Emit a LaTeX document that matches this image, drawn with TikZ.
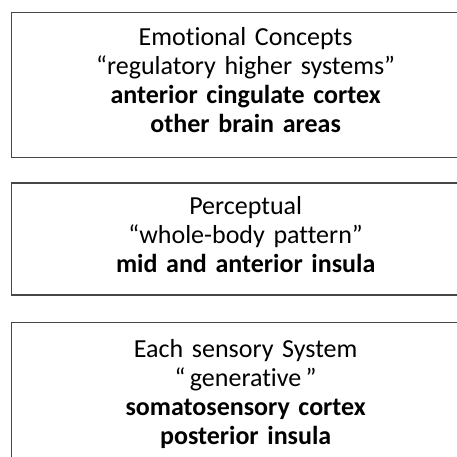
\documentclass[tikz,border=0pt]{standalone}
\usepackage{fontspec}
\setmainfont{Carlito}[Ligatures=NoCommon, WordSpace=0.85]
\usetikzlibrary{positioning}

\tikzset{
  layerbox/.style={draw=black!72, line width=1.3pt, minimum width=468pt, inner sep=0pt},
  layertext/.style={text width=440pt, align=center, inner sep=0pt, anchor=north,
    font=\fontsize{26}{29}\selectfont},
}

\begin{document}
\begin{tikzpicture}[x=1pt,y=1pt]
		\useasboundingbox (0,0) rectangle (457,-456);
		\clip (0,0) rectangle (457,-456);
		% three levels, top to bottom
		\node[layerbox, minimum height=145pt, anchor=north west] (emotion) at (11,-12) {};
		\node[layerbox, minimum height=112pt, below=24pt of emotion] (percept) {};
		\node[layerbox, minimum height=145pt, below=26pt of percept] (sensory) {};
		% texts
		\node[layertext] (emotiontext) at ([yshift=-13pt]emotion.north)
		  {\strut Emotional Concepts\\ “regulatory higher systems”\\ \textbf{anterior cingulate cortex}\\ \textbf{other brain areas}};
		\node[layertext] (percepttext) at ([yshift=-12pt]percept.north)
		  {\strut Perceptual\\ “whole-body pattern”\\ \textbf{mid and anterior insula}};
		\node[layertext] (sensorytext) at ([yshift=-15.5pt]sensory.north)
		  {\strut Each sensory System\\ “\,generative\,”\\ \textbf{somatosensory cortex}\\ \textbf{posterior insula}};
		\end{tikzpicture}
\end{document}
